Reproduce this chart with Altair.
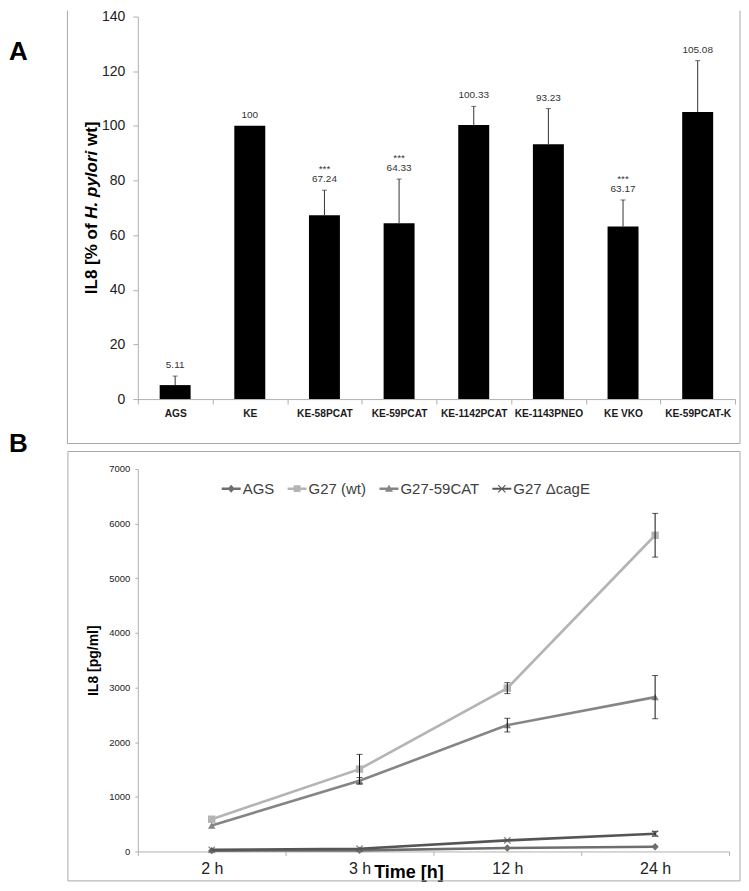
import altair as alt
import pandas as pd

# ---------------- Panel A data ----------------
strains = ["AGS", "KE", "KE-58PCAT", "KE-59PCAT", "KE-1142PCAT",
           "KE-1143PNEO", "KE VKO", "KE-59PCAT-K"]
il8_pct = [5.11, 100, 67.24, 64.33, 100.33, 93.23, 63.17, 105.08]
il8_err = [3.3, 0, 9.2, 16.2, 6.8, 13.1, 9.7, 18.8]
value_labels = ["5.11", "100", "67.24", "64.33", "100.33", "93.23", "63.17", "105.08"]
signif = ["", "", "***", "***", "", "", "***", ""]

# ---------------- Panel B data ----------------
times = ["2 h", "3 h", "12 h", "24 h"]
series = ["AGS", "G27 (wt)", "G27-59CAT", "G27 \u0394cagE"]
ags = [15, 20, 62, 86]
ags_err = [0, 0, 0, 0]
wt = [590, 1507, 2989, 5787]
wt_err = [0, 270, 100, 400]
cat59 = [476, 1293, 2312, 2824]
cat59_err = [0, 60, 125, 395]
cage = [30, 50, 202, 324]
cage_err = [0, 0, 0, 45]

series_colors = ["#6e6e6e", "#b4b4b4", "#858585", "#555555"]
series_shapes = ["diamond", "square", "triangle-up", "M-1,-1L1,1M1,-1L-1,1"]
legend_paths = [
    "M-1,-0.13H1V0.13H-1Z M0,-0.42L0.38,0L0,0.42L-0.38,0Z",
    "M-1,-0.13H1V0.13H-1Z M-0.36,-0.36H0.36V0.36H-0.36Z",
    "M-1,-0.13H1V0.13H-1Z M0,-0.44L0.42,0.32H-0.42Z",
    "M-1,-0.11H1V0.11H-1Z M-0.42,-0.34L-0.34,-0.42L0.42,0.34L0.34,0.42Z M0.34,-0.42L0.42,-0.34L-0.34,0.42L-0.42,0.34Z",
]

# y title of panel A, split so that "H. pylori" can be italic
titleA_parts = ["IL8 [% of", "H. pylori", "wt]"]
titleA_styles = ["normal", "italic", "normal"]
# advance of each piece incl. the following space, in Arial-metric em/1000 units
titleA_adv = [4445, 4001 + 278, 1444]

SANS = "Liberation Sans, Arial, sans-serif"
AXIS_GRAY = "#b0b0b0"
BOX_GRAY = "#a8a8a8"

# ---------------- Panel A ----------------
dfA = pd.DataFrame({"strain": strains, "val": il8_pct, "err": il8_err,
                    "lab": value_labels, "sig": signif})
dfA["top"] = dfA["val"] + dfA["err"]

WA, HA = 598, 383

xA = alt.X("strain:N", sort=strains,
           scale=alt.Scale(paddingInner=0, paddingOuter=0),
           axis=alt.Axis(title=None, tickBand="extent", labelAngle=0,
                         labelFont=SANS, labelFontWeight="bold", labelFontSize=10.2,
                         labelColor="#1a1a1a", domainColor=AXIS_GRAY, tickColor=AXIS_GRAY,
                         tickSize=5, labelPadding=4))
yA = alt.Y("val:Q", scale=alt.Scale(domain=[0, 140]),
           axis=alt.Axis(values=list(range(0, 141, 20)), grid=False, title=None,
                         labelFont=SANS, labelFontSize=14,
                         labelColor="#222222", labelPadding=8, tickSize=5,
                         domainColor=AXIS_GRAY, tickColor=AXIS_GRAY))

bars = alt.Chart(dfA).mark_bar(size=31, color="#000000").encode(x=xA, y=yA)
baseA = alt.Chart(dfA).transform_filter("datum.err > 0")
err_rule = baseA.mark_rule(color="#333333", strokeWidth=1).encode(
    x=alt.X("strain:N", sort=strains), y="val:Q", y2="top:Q")
err_cap = baseA.mark_tick(color="#333333", thickness=1, size=5).encode(
    x=alt.X("strain:N", sort=strains), y="top:Q")
val_text = alt.Chart(dfA).mark_text(dy=-11, fontSize=10, font=SANS, color="#333333").encode(
    x=alt.X("strain:N", sort=strains), y="top:Q", text="lab:N")
star_text = alt.Chart(dfA).transform_filter("datum.sig != ''").mark_text(
    dy=-21, fontSize=10, font=SANS, color="#333333").encode(
    x=alt.X("strain:N", sort=strains), y="top:Q", text="sig:N")

dummy = pd.DataFrame({"d": [0]})
RIGHT = 603

# rotated y title built from three pieces (Liberation Sans Bold is Arial-metric)
TFS = 17
adv = [a * TFS / 1000 for a in titleA_adv]
pos = HA / 2 + sum(adv) / 2
title_layers = []
for txt, sty, w in zip(titleA_parts, titleA_styles, adv):
    title_layers.append(
        alt.Chart(dummy).mark_text(text=txt, font=SANS, fontSize=TFS, fontWeight="bold",
                                   fontStyle=sty, angle=270, align="left",
                                   baseline="middle", color="#000000").encode(
            x=alt.value(-46), y=alt.value(pos)))
    pos -= w

boxA = alt.layer(
    alt.Chart(dummy).mark_rule(color=BOX_GRAY, strokeWidth=1).encode(
        x=alt.value(-70.5), y=alt.value(-6), y2=alt.value(427.5)),
    alt.Chart(dummy).mark_rule(color=BOX_GRAY, strokeWidth=1).encode(
        x=alt.value(RIGHT), y=alt.value(-6), y2=alt.value(427.5)),
    alt.Chart(dummy).mark_rule(color=BOX_GRAY, strokeWidth=1).encode(
        x=alt.value(-70.5), x2=alt.value(RIGHT), y=alt.value(427.5)),
    alt.Chart(dummy).mark_text(text="A", fontSize=26, fontWeight="bold", font=SANS,
                               align="left", baseline="middle").encode(
        x=alt.value(-129), y=alt.value(35)),
    *title_layers,
)

panelA = alt.layer(bars, err_rule, err_cap, val_text, star_text, boxA).properties(
    width=WA, height=HA)

# ---------------- Panel B ----------------
WB, HB = 592, 383
vals_by_series = [ags, wt, cat59, cage]
errs_by_series = [ags_err, wt_err, cat59_err, cage_err]

xB_axis = alt.Axis(title="Time [h]", tickBand="extent", labelAngle=0,
                   labelFont=SANS, labelFontSize=16, labelColor="#222222",
                   labelPadding=5, tickSize=4, domainColor=AXIS_GRAY, tickColor=AXIS_GRAY,
                   titleFont=SANS, titleFontSize=18, titleFontWeight="bold",
                   titleColor="#000000", titleX=271, titleY=21,
                   titleBaseline="middle", titleAlign="center")
yB_axis = alt.Axis(values=list(range(0, 7001, 1000)), format="d", grid=False,
                   title="IL8 [pg/ml]",
                   titleFont=SANS, titleFontSize=14, titleFontWeight="bold",
                   titleColor="#000000", titlePadding=8, labelFont=SANS,
                   labelFontSize=9.5, labelColor="#222222", labelPadding=5, tickSize=3,
                   domainColor=AXIS_GRAY, tickColor=AXIS_GRAY)
xB_scale = alt.Scale(paddingInner=0, paddingOuter=0)
yB_scale = alt.Scale(domain=[0, 7000])

layersB = []
for i, s in enumerate(series):
    df = pd.DataFrame({"time": times, "val": vals_by_series[i], "err": errs_by_series[i]})
    df["lo"] = df["val"] - df["err"]
    df["hi"] = df["val"] + df["err"]
    xb = alt.X("time:N", sort=times, scale=xB_scale, axis=xB_axis, bandPosition=0.5)
    yb = alt.Y("val:Q", scale=yB_scale, axis=yB_axis)
    layersB.append(alt.Chart(df).mark_line(color=series_colors[i], strokeWidth=2.6).encode(x=xb, y=yb))
    if series_shapes[i].startswith("M"):
        pt = alt.Chart(df).mark_point(shape=series_shapes[i], filled=False,
                                      color=series_colors[i], strokeWidth=1.3, size=40)
    else:
        pt = alt.Chart(df).mark_point(shape=series_shapes[i], filled=True, opacity=1,
                                      color=series_colors[i], size=55)
    layersB.append(pt.encode(x=xb, y=yb))
    eb = alt.Chart(df).transform_filter("datum.err > 0")
    layersB.append(eb.mark_rule(color="#111111", strokeWidth=1).encode(
        x=alt.X("time:N", sort=times, bandPosition=0.5), y="lo:Q", y2="hi:Q"))
    layersB.append(eb.mark_tick(color="#111111", thickness=1, size=6).encode(
        x=alt.X("time:N", sort=times, bandPosition=0.5), y="hi:Q"))
    layersB.append(eb.mark_tick(color="#111111", thickness=1, size=6).encode(
        x=alt.X("time:N", sort=times, bandPosition=0.5), y="lo:Q"))

# legend-only layer (rows carry no value, so no marks are drawn)
dfLeg = pd.DataFrame({"series": series, "time": ["2 h"] * 4, "val": [None] * 4})
leg = alt.Legend(title=None, orient="none", legendX=84, legendY=463, direction="horizontal",
                 columns=4, columnPadding=13, symbolSize=361, symbolStrokeWidth=0,
                 labelFont=SANS, labelFontSize=15, labelColor="#404040", labelOffset=2)
legend_layer = alt.Chart(dfLeg).mark_point(filled=True, opacity=1).encode(
    x=alt.X("time:N", sort=times),
    y=alt.Y("val:Q"),
    color=alt.Color("series:N", scale=alt.Scale(domain=series, range=series_colors), legend=leg),
    shape=alt.Shape("series:N", scale=alt.Scale(domain=series, range=legend_paths), legend=leg),
)

boxB = alt.layer(
    alt.Chart(dummy).mark_rect(fill="transparent", stroke=BOX_GRAY, strokeWidth=1).encode(
        x=alt.value(-70), x2=alt.value(RIGHT), y=alt.value(-17.5), y2=alt.value(412.5)),
    alt.Chart(dummy).mark_text(text="B", fontSize=26, fontWeight="bold", font=SANS,
                               align="left", baseline="middle").encode(
        x=alt.value(-129), y=alt.value(-25)),
)

panelB = alt.layer(*layersB, legend_layer, boxB).properties(width=WB, height=HB)

chart = alt.vconcat(panelA, panelB, spacing=70, bounds="flush").properties(
    padding=0
).configure_view(stroke="transparent")

chart.save("out.html", embed_options={"renderer": "svg", "actions": False})
